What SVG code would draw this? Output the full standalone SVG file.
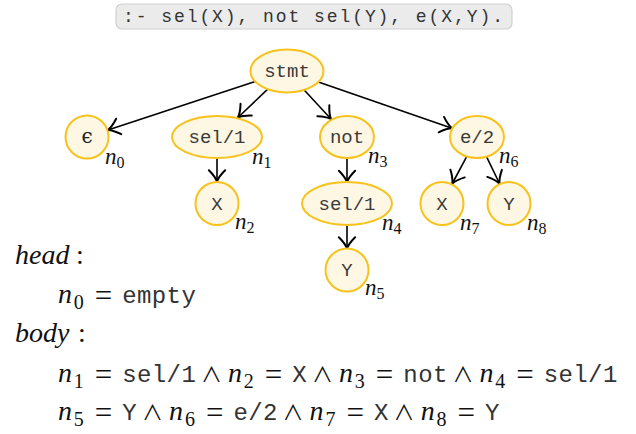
<svg xmlns="http://www.w3.org/2000/svg" width="636" height="434" viewBox="0 0 636 434">
<defs>
<marker id="arr" markerUnits="userSpaceOnUse" markerWidth="20" markerHeight="20" viewBox="-12 -8 14 16" refX="0" refY="0" orient="auto">
<path d="M-9,-6.5 Q-4,-1.5 0,0 Q-4,1.5 -9,6.5" fill="none" stroke="#000" stroke-width="1.6" stroke-linecap="round"/>
</marker>
<style>
.node{fill:#fdf7e4;stroke:#f8c21c;stroke-width:2}
.nt{font-family:"Liberation Mono",monospace;font-size:19px;fill:#3a3a3a;text-anchor:middle}
.lab{font-family:"Liberation Serif",serif;font-style:italic;font-size:23px;fill:#111}
.sub{font-family:"Liberation Serif",serif;font-style:normal;font-size:16px}
.edge{stroke:#000;stroke-width:1.6;fill:none;marker-end:url(#arr)}
.mi{font-family:"Liberation Serif",serif;font-style:italic;font-size:28px;fill:#111}
.ms{font-family:"Liberation Serif",serif;font-style:normal;font-size:20px;fill:#111}
.eq{font-family:"Liberation Serif",serif;font-size:31px;fill:#111;text-anchor:middle}
.and{font-family:"Noto Sans CJK JP","DejaVu Sans",sans-serif;font-size:21px;fill:#111;text-anchor:middle}
.tt{font-family:"Liberation Mono",monospace;font-size:24px;fill:#333}
.rm{font-family:"Liberation Serif",serif;font-size:28px;fill:#111}
</style>
</defs>

<g id="query">
<rect x="116" y="4" width="396" height="25" rx="6" fill="#ebebeb" stroke="#d0d0d0" stroke-width="1.2"/>
<text x="123" y="22" font-family="Liberation Mono,monospace" font-size="18" fill="#333" textLength="380" lengthAdjust="spacing">:- sel(X), not sel(Y), e(X,Y).</text>
</g>

<g id="connectors">
<line class="edge" x1="255.2" y1="81.5" x2="108" y2="130"/>
<line class="edge" x1="267.7" y1="89.2" x2="238" y2="117.5"/>
<line class="edge" x1="304.2" y1="90" x2="331" y2="119"/>
<line class="edge" x1="318.4" y1="81.9" x2="452" y2="128.3"/>
<line class="edge" x1="217" y1="158" x2="217" y2="181.5"/>
<line class="edge" x1="347" y1="158" x2="347" y2="182"/>
<line class="edge" x1="347" y1="225" x2="347" y2="248.5"/>
<line class="edge" x1="466.8" y1="156.4" x2="452.3" y2="183.5"/>
<line class="edge" x1="486.5" y1="156.7" x2="499.5" y2="183.5"/>
</g>

<g id="stmt"><ellipse class="node" cx="287" cy="71" rx="36.5" ry="21.5"/><text class="nt" x="287" y="77">stmt</text></g>
<g id="n0"><circle class="node" cx="87" cy="137" r="21.5"/><text x="87" y="143" font-family="DejaVu Serif,serif" font-size="20" fill="#222" text-anchor="middle">ϵ</text><text class="lab" x="105" y="164">n<tspan class="sub" dy="4">0</tspan></text></g>
<g id="n1"><ellipse class="node" cx="217" cy="137" rx="45" ry="21"/><text class="nt" x="217" y="143">sel/1</text><text class="lab" x="252" y="164">n<tspan class="sub" dy="4">1</tspan></text></g>
<g id="n3"><ellipse class="node" cx="347" cy="137" rx="27" ry="21"/><text class="nt" x="347" y="143">not</text><text class="lab" x="368" y="163">n<tspan class="sub" dy="4">3</tspan></text></g>
<g id="n6"><ellipse class="node" cx="477" cy="137" rx="27" ry="21"/><text class="nt" x="477" y="143">e/2</text><text class="lab" x="499" y="163">n<tspan class="sub" dy="4">6</tspan></text></g>
<g id="n2"><circle class="node" cx="217" cy="203.5" r="21.5"/><text class="nt" x="217" y="209.5">X</text><text class="lab" x="235" y="229">n<tspan class="sub" dy="4">2</tspan></text></g>
<g id="n4"><ellipse class="node" cx="347" cy="203.5" rx="45" ry="21.5"/><text class="nt" x="347" y="209.5">sel/1</text><text class="lab" x="382" y="230">n<tspan class="sub" dy="4">4</tspan></text></g>
<g id="n5"><circle class="node" cx="347" cy="270" r="21.5"/><text class="nt" x="347" y="276">Y</text><text class="lab" x="365" y="295">n<tspan class="sub" dy="4">5</tspan></text></g>
<g id="n7"><circle class="node" cx="442" cy="203.5" r="21.5"/><text class="nt" x="442" y="209.5">X</text><text class="lab" x="460" y="230">n<tspan class="sub" dy="4">7</tspan></text></g>
<g id="n8"><circle class="node" cx="509" cy="203.5" r="21.5"/><text class="nt" x="509" y="209.5">Y</text><text class="lab" x="527" y="230">n<tspan class="sub" dy="4">8</tspan></text></g>

<g id="formulas">
<text class="mi" x="15" y="264">head</text><text class="rm" x="76" y="264">:</text>
<text class="mi" x="58" y="303">n</text><text class="ms" x="73.8" y="309">0</text>
<text class="eq" x="103.6" y="306">=</text>
<text class="tt" x="122.3" y="303" textLength="73.5" lengthAdjust="spacing">empty</text>
<text class="mi" x="15" y="342">body</text><text class="rm" x="78" y="342">:</text>

<text class="mi" x="58" y="382">n</text><text class="ms" x="73.8" y="388">1</text>
<text class="eq" x="103.6" y="385">=</text>
<text class="tt" x="122.3" y="382" textLength="73.5" lengthAdjust="spacing">sel/1</text>
<text class="and" x="211.4" y="382">∧</text>
<text class="mi" x="227.9" y="382">n</text><text class="ms" x="243.7" y="388">2</text>
<text class="eq" x="273.5" y="385">=</text>
<text class="tt" x="292.2" y="382">X</text>
<text class="and" x="322.4" y="382">∧</text>
<text class="mi" x="339" y="382">n</text><text class="ms" x="354.8" y="388">3</text>
<text class="eq" x="384.6" y="385">=</text>
<text class="tt" x="403.3" y="382" textLength="44.1" lengthAdjust="spacing">not</text>
<text class="and" x="462.9" y="382">∧</text>
<text class="mi" x="479.5" y="382">n</text><text class="ms" x="495.3" y="388">4</text>
<text class="eq" x="525.1" y="385">=</text>
<text class="tt" x="543.8" y="382" textLength="73.5" lengthAdjust="spacing">sel/1</text>

<text class="mi" x="58" y="420">n</text><text class="ms" x="73.8" y="426">5</text>
<text class="eq" x="103.6" y="423">=</text>
<text class="tt" x="122.3" y="420">Y</text>
<text class="and" x="152.5" y="420">∧</text>
<text class="mi" x="169.1" y="420">n</text><text class="ms" x="184.9" y="426">6</text>
<text class="eq" x="214.7" y="423">=</text>
<text class="tt" x="233.4" y="420" textLength="44.1" lengthAdjust="spacing">e/2</text>
<text class="and" x="293" y="420">∧</text>
<text class="mi" x="309.6" y="420">n</text><text class="ms" x="325.4" y="426">7</text>
<text class="eq" x="355.2" y="423">=</text>
<text class="tt" x="373.9" y="420">X</text>
<text class="and" x="404.1" y="420">∧</text>
<text class="mi" x="420.7" y="420">n</text><text class="ms" x="436.5" y="426">8</text>
<text class="eq" x="466.3" y="423">=</text>
<text class="tt" x="485" y="420">Y</text>
</g>
</svg>
